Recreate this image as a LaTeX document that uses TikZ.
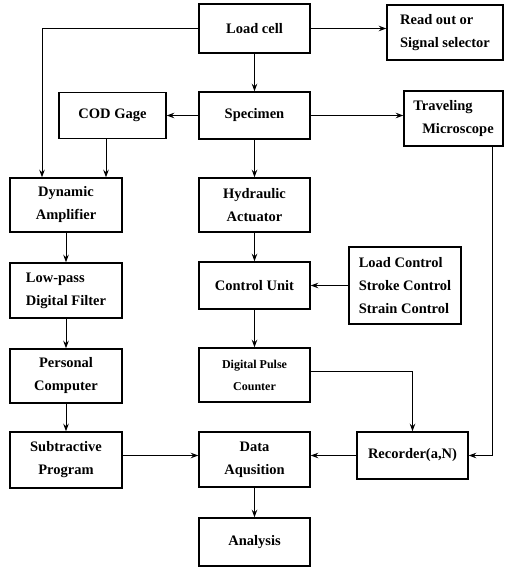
\documentclass[tikz,border=0pt]{standalone}
\usepackage{fontspec}
\setmainfont{Liberation Serif}
\usetikzlibrary{arrows.meta}
\begin{document}
\begin{tikzpicture}[x=1pt, y=-1pt, >={Stealth[length=7.5pt,width=5.5pt]},
  line width=1pt, black, text=black,
  box/.style={draw, line width=1.5pt, inner sep=0pt, align=center,
    font=\bfseries\fontsize{14.5}{23}\selectfont},
  small/.style={font=\bfseries\fontsize{12}{22}\selectfont}]
  \useasboundingbox (0,0) rectangle (504,569);
  % middle column
  \node[box, minimum width=111, minimum height=49] (load) at (254.5,28.5) {Load cell};
  \node[box, minimum width=111, minimum height=47] (spec) at (254.5,115.5) {Specimen};
  \node[box, minimum width=111, minimum height=54] (hyd)  at (254.5,205) {Hydraulic\\Actuator};
  \node[box, minimum width=111, minimum height=47] (ctrl) at (254.5,285.5) {Control Unit};
  \node[box, small, minimum width=111, minimum height=54] (dpc) at (254.5,375) {Digital Pulse\\Counter};
  \node[box, minimum width=111, minimum height=55] (data) at (254.5,459.5) {Data\\Aqusition};
  \node[box, minimum width=111, minimum height=48] (ana)  at (254.5,542) {Analysis};
  % left column
  \node[box, minimum width=107, minimum height=46] (cod) at (112.5,115.5) {COD Gage};
  \node[box, minimum width=112, minimum height=54] (dyn) at (66,205) {Dynamic\\Amplifier};
  \node[box, align=left, minimum width=112, minimum height=55] (low) at (66,290.5) {Low-pass\\Digital Filter};
  \node[box, minimum width=112, minimum height=54] (pc)  at (66,376) {Personal\\Computer};
  \node[box, minimum width=112, minimum height=56] (sub) at (66,460) {Subtractive\\Program};
  % right column
  \node[box, align=left, minimum width=116, minimum height=55] (read) at (445,32.5) {Read out or\\Signal selector};
  \node[box, align=left, minimum width=99, minimum height=55] (micro) at (453.5,118.5) {Traveling\\\hspace{9pt}Microscope};
  \node[box, align=left, minimum width=112, minimum height=77] (lcc) at (405,285.5) {Load Control\\Stroke Control\\Strain Control};
  \node[box, minimum width=111, minimum height=47] (rec) at (412.5,455.5) {Recorder(a,N)};
  \coordinate (lc) at (42,28.5);
  \coordinate (mc) at (492,0);
  \path[->]
    (load) edge (spec)
    (spec) edge (hyd)
    (hyd)  edge (ctrl)
    (ctrl) edge (dpc)
    (data) edge (ana)
    (dyn)  edge (low)
    (low)  edge (pc)
    (pc)   edge (sub)
    (spec) edge (cod)
    (lcc)  edge (ctrl)
    ;
  \draw[->] (spec.east) -- (spec.east -| micro.west);
  \draw[->] (load.east) -- (load.east -| read.west);
  \draw[->] (load.west) -- (lc) -- (lc |- dyn.north);
  \draw[->] ([xshift=-6.5pt]cod.south) -- ([xshift=-6.5pt]cod.south |- dyn.north);
  \draw[->] (sub.east |- rec) -- (data.west |- rec);
  \draw[->] (rec.west) -- (data.east |- rec);
  \draw[->] (dpc.east |- 0,371) -| (rec.north);
  \draw[->] (mc |- micro.south) -- (mc |- rec) -- (rec.east);
\end{tikzpicture}
\end{document}
